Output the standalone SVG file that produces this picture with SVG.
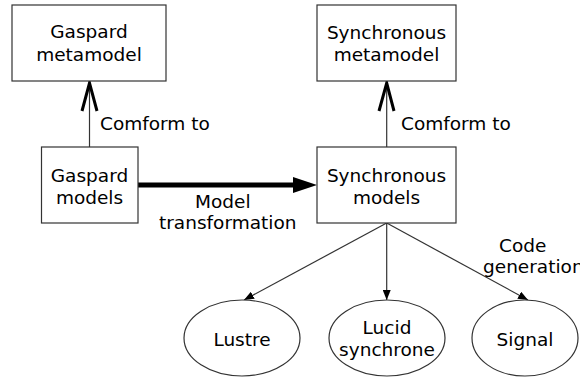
<svg xmlns="http://www.w3.org/2000/svg" width="580" height="377" viewBox="0 0 580 377">
<style>
.box{fill:#fff;stroke:#333;stroke-width:1.2}
.t{font-family:"DejaVu Sans",sans-serif;font-size:18.5px;fill:#000}
.c{text-anchor:middle}
.ln{stroke:#333;stroke-width:1.2;fill:none}
</style>
<defs>
<marker id="tri" viewBox="0 0 10 8" refX="10" refY="4" markerWidth="10" markerHeight="8" markerUnits="userSpaceOnUse" orient="auto">
<path d="M0,0 L10,4 L0,8 Z" fill="#000"/>
</marker>
</defs>
<rect width="580" height="377" fill="#fff"/>
<g id="connectors">
<line class="ln" x1="89.5" y1="147" x2="89.5" y2="82"/>
<path d="M82,111 L89.5,83 L97,111" fill="none" stroke="#000" stroke-width="3"/>
<line class="ln" x1="386.7" y1="147" x2="386.7" y2="82"/>
<path d="M379,111 L386.7,83 L394,111" fill="none" stroke="#000" stroke-width="3"/>
<line x1="138" y1="185" x2="296" y2="185" stroke="#000" stroke-width="5"/>
<path d="M293,177 L317,185 L293,193 Z" fill="#000"/>
<line class="ln" x1="386.7" y1="223" x2="244" y2="300" marker-end="url(#tri)"/>
<line class="ln" x1="386.7" y1="223" x2="386.7" y2="300" marker-end="url(#tri)"/>
<line class="ln" x1="386.7" y1="223" x2="528" y2="300" marker-end="url(#tri)"/>
<text class="t" x="100" y="130">Comform to</text>
<text class="t" x="401" y="130">Comform to</text>
<text class="t" x="195" y="208">Model</text>
<text class="t" x="159" y="229">transformation</text>
<text class="t" x="499" y="252">Code</text>
<text class="t" x="483" y="273">generation</text>
</g>
<g id="gaspard-metamodel">
<rect class="box" x="12" y="5" width="154" height="76"/>
<text class="t c" x="89" y="38">Gaspard</text>
<text class="t c" x="89" y="61">metamodel</text>
</g>
<g id="gaspard-models">
<rect class="box" x="41.5" y="147" width="96.5" height="76"/>
<text class="t c" x="89.5" y="182">Gaspard</text>
<text class="t c" x="89.5" y="204">models</text>
</g>
<g id="synchronous-metamodel">
<rect class="box" x="317" y="5" width="139" height="76"/>
<text class="t c" x="386.5" y="39">Synchronous</text>
<text class="t c" x="386.5" y="61">metamodel</text>
</g>
<g id="synchronous-models">
<rect class="box" x="317" y="147" width="139" height="76"/>
<text class="t c" x="386.5" y="182">Synchronous</text>
<text class="t c" x="386.5" y="204">models</text>
</g>
<g id="lustre">
<ellipse class="box" cx="242" cy="338" rx="58" ry="38"/>
<text class="t c" x="242" y="346">Lustre</text>
</g>
<g id="lucid-synchrone">
<ellipse class="box" cx="387" cy="338" rx="58" ry="38"/>
<text class="t c" x="387" y="334">Lucid</text>
<text class="t c" x="387" y="356">synchrone</text>
</g>
<g id="signal">
<ellipse class="box" cx="525" cy="338" rx="53" ry="38"/>
<text class="t c" x="525" y="346">Signal</text>
</g>
</svg>
